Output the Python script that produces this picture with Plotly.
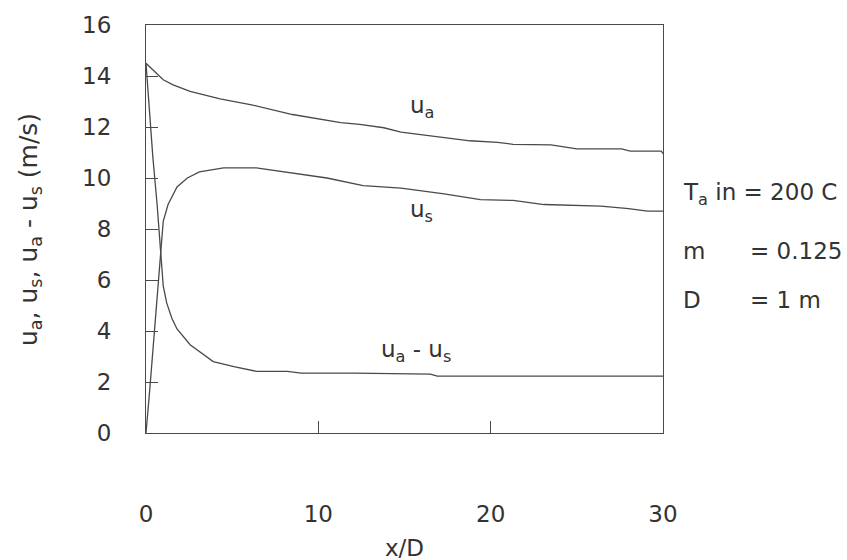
import plotly.graph_objects as go

# Air velocity u_a along the duct
x_ua = [0, 1.0, 1.57, 2.56, 4.3, 6.05, 8.5, 11.3, 12.4, 13.8, 14.8, 17.3, 18.8,
        20.4, 21.3, 23.5, 25.0, 27.6, 28.1, 29.9, 30]
ua = [14.5, 13.85, 13.65, 13.4, 13.1, 12.88, 12.49, 12.17, 12.1, 11.97, 11.8,
      11.6, 11.46, 11.4, 11.32, 11.3, 11.14, 11.14, 11.05, 11.05, 10.96]

# Solid (particle) velocity u_s
x_us = [0, 0.23, 1.0, 1.28, 1.8, 2.4, 3.1, 4.5, 6.4, 8.0, 10.5, 12.6, 14.8,
        17.3, 19.4, 21.3, 23.1, 26.4, 28.0, 29.1, 30]
us = [0, 1.8, 8.3, 8.96, 9.65, 10.0, 10.24, 10.4, 10.4, 10.24, 10.0, 9.7, 9.6,
      9.38, 9.15, 9.12, 8.96, 8.9, 8.8, 8.7, 8.7]

# Slip velocity u_a - u_s
x_slip = [0, 0.4, 0.64, 1.0, 1.2, 1.5, 1.8, 2.56, 3.9, 5.1, 6.4, 8.2, 9.0,
          12.0, 16.5, 16.9, 20.0, 25.0, 30]
slip = [14.5, 10.8, 9.0, 5.77, 5.1, 4.5, 4.08, 3.46, 2.8, 2.6, 2.42, 2.42,
        2.35, 2.35, 2.31, 2.23, 2.23, 2.23, 2.23]

x_ticks = [0, 10, 20, 30]
y_ticks = [0, 2, 4, 6, 8, 10, 12, 14, 16]

LINE = "#4a4a4a"
TEXT = "#333333"
FONT = "DejaVu Sans, Liberation Sans, sans-serif"
FS = 23

fig = go.Figure()
for xs, ys in [(x_ua, ua), (x_us, us), (x_slip, slip)]:
    fig.add_trace(go.Scatter(x=xs, y=ys, mode="lines",
                             line=dict(color=LINE, width=1.3),
                             showlegend=False, hoverinfo="skip"))

# Curve labels
curve_labels = [
    (15.2, 12.78, "u<sub>a</sub>"),
    (15.2, 8.72, "u<sub>s</sub>"),
    (13.5, 3.23, "u<sub>a</sub> - u<sub>s</sub>"),
]
for lx, ly, txt in curve_labels:
    fig.add_annotation(x=lx, y=ly, xref="x", yref="y", text=txt,
                       showarrow=False, xanchor="left", yanchor="middle",
                       font=dict(size=FS, color=TEXT, family=FONT))

# Operating conditions beside the plot
cond = [
    (1.0348, 0.587, "T<sub>a</sub> in = 200 C"),
    (1.0348, 0.447, "m"),
    (1.1644, 0.447, "= 0.125"),
    (1.0348, 0.325, "D"),
    (1.1644, 0.325, "= 1 m"),
]
for px, py, txt in cond:
    fig.add_annotation(x=px, y=py, xref="paper", yref="paper", text=txt,
                       showarrow=False, xanchor="left", yanchor="middle",
                       font=dict(size=FS, color=TEXT, family=FONT))

# Axis titles
fig.add_annotation(x=-0.2244, y=0.5, xref="paper", yref="paper",
                   text="u<sub>a</sub>, u<sub>s</sub>, u<sub>a</sub> - u<sub>s</sub> (m/s)",
                   textangle=-90, showarrow=False,
                   xanchor="center", yanchor="middle",
                   font=dict(size=25, color=TEXT, family=FONT))
fig.add_annotation(x=0.5, y=-0.282, xref="paper", yref="paper", text="x/D",
                   showarrow=False, xanchor="center", yanchor="middle",
                   font=dict(size=FS, color=TEXT, family=FONT))

axis_common = dict(showline=True, mirror=True, linecolor=LINE, linewidth=1.2,
                   showgrid=False, zeroline=False, ticks="inside", ticklen=12,
                   tickcolor=LINE, tickwidth=1.2,
                   tickfont=dict(size=FS, color=TEXT, family=FONT))

fig.update_xaxes(range=[0, 30], tickvals=x_ticks, ticklabelstandoff=60,
                 **axis_common)
fig.update_yaxes(range=[0, 16], tickvals=y_ticks, ticklabelstandoff=29,
                 **axis_common)

fig.update_layout(width=847, height=560,
                  margin=dict(l=146, r=184, t=17, b=127),
                  paper_bgcolor="white", plot_bgcolor="white",
                  font=dict(family=FONT, color=TEXT))

fig.write_html("out.html")
